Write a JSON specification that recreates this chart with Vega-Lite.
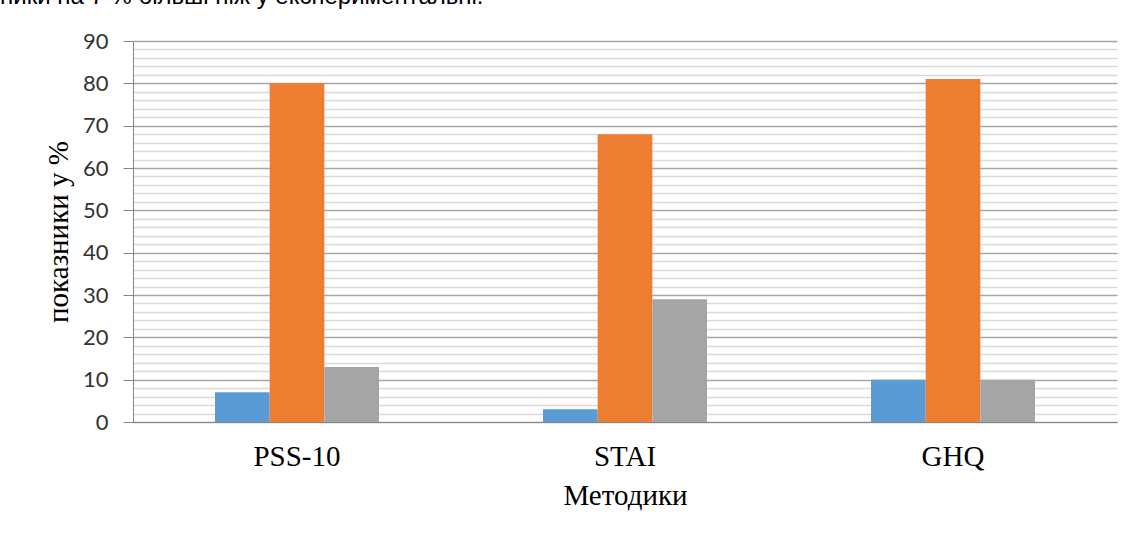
{
  "$schema": "https://vega.github.io/schema/vega-lite/v6.json",
  "autosize": "none",
  "width": 984,
  "height": 381,
  "padding": {"left": 133, "top": 41, "right": 18, "bottom": 118},
  "background": "white",
  "title": {
    "text": "ники на 7 % більші ніж у експериментальні.",
    "anchor": "start",
    "frame": "group",
    "dx": -133,
    "offset": 2,
    "baseline": "alphabetic",
    "font": "Liberation Sans",
    "fontSize": 24,
    "fontWeight": "normal",
    "color": "#000000"
  },
  "data": {
    "values": [
      {"method": "PSS-10", "level": "низький", "value": 7},
      {"method": "PSS-10", "level": "середній", "value": 80},
      {"method": "PSS-10", "level": "високий", "value": 13},
      {"method": "STAI", "level": "низький", "value": 3},
      {"method": "STAI", "level": "середній", "value": 68},
      {"method": "STAI", "level": "високий", "value": 29},
      {"method": "GHQ", "level": "низький", "value": 10},
      {"method": "GHQ", "level": "середній", "value": 81},
      {"method": "GHQ", "level": "високий", "value": 10}
    ]
  },
  "mark": {"type": "bar"},
  "encoding": {
    "x": {
      "field": "method",
      "type": "nominal",
      "sort": ["PSS-10", "STAI", "GHQ"],
      "scale": {"paddingInner": 0.5, "paddingOuter": 0.25},
      "axis": {
        "title": "Методики",
        "titleFont": "Liberation Serif",
        "titleFontSize": 29,
        "titleFontWeight": "normal",
        "titleColor": "#000000",
        "titlePadding": 10,
        "labelFont": "Liberation Serif",
        "labelFontSize": 29,
        "labelColor": "#000000",
        "labelAngle": 0,
        "labelPadding": 20,
        "ticks": false,
        "domainColor": "#868686",
        "domainWidth": 1,
        "grid": false
      }
    },
    "xOffset": {"field": "level", "type": "nominal", "sort": ["низький", "середній", "високий"]},
    "y": {
      "field": "value",
      "type": "quantitative",
      "scale": {"domain": [0, 90], "nice": false},
      "axis": {
        "title": "показники у %",
        "titleFont": "Liberation Serif",
        "titleFontSize": 29,
        "titleFontWeight": "normal",
        "titleColor": "#000000",
        "titleX": -60,
        "values": [0,2,4,6,8,10,12,14,16,18,20,22,24,26,28,30,32,34,36,38,40,42,44,46,48,50,52,54,56,58,60,62,64,66,68,70,72,74,76,78,80,82,84,86,88,90],
        "labelExpr": "datum.value % 10 === 0 ? datum.label : ''",
        "labelFont": "Lato",
        "labelFontSize": 22,
        "labelColor": "#333333",
        "labelPadding": 15,
        "tickSize": 10,
        "tickColor": "#868686",
        "tickOpacity": {"condition": {"test": "datum.value % 10 === 0", "value": 1}, "value": 0},
        "domainColor": "#868686",
        "grid": true,
        "gridColor": {"condition": {"test": "datum.value % 10 === 0", "value": "#A6A6A6"}, "value": "#D9D9D9"},
        "gridWidth": 1.5
      }
    },
    "color": {
      "field": "level",
      "type": "nominal",
      "sort": ["низький", "середній", "високий"],
      "scale": {"domain": ["низький", "середній", "високий"], "range": ["#5B9BD5", "#ED7D31", "#A5A5A5"]},
      "legend": null
    }
  },
  "config": {"view": {"stroke": null}}
}
